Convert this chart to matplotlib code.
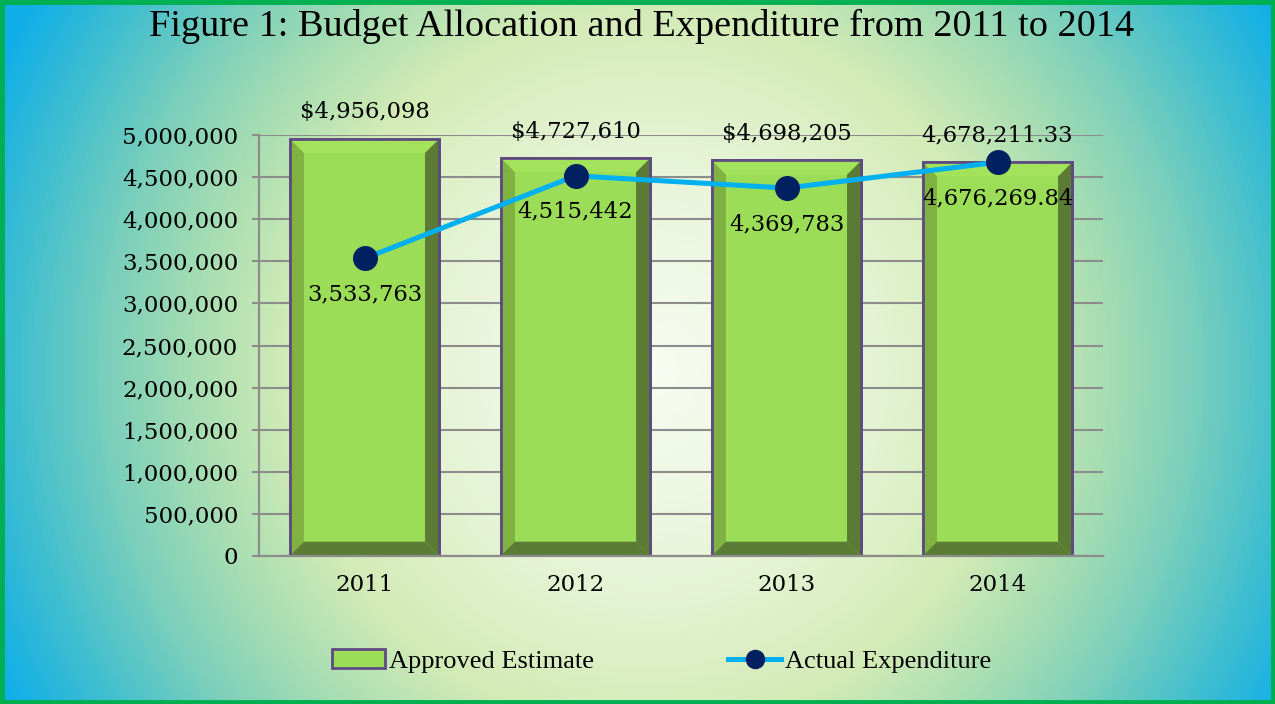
import numpy as np
import matplotlib
matplotlib.use("Agg")
import matplotlib.pyplot as plt
from matplotlib.colors import LinearSegmentedColormap
from matplotlib.patches import Polygon, Patch
from matplotlib.lines import Line2D
from matplotlib.ticker import FuncFormatter

years = ["2011", "2012", "2013", "2014"]
approved = [4956098, 4727610, 4698205, 4678211.33]
actual = [3533763, 4515442, 4369783, 4676269.84]
approved_labels = ["$4,956,098", "$4,727,610", "$4,698,205", "4,678,211.33"]
actual_labels = ["3,533,763", "4,515,442", "4,369,783", "4,676,269.84"]

W, H = 1275, 704
fig = plt.figure(figsize=(W / 100, H / 100), dpi=100)

# radial backdrop: pale centre fading out to cyan/blue corners
bg = fig.add_axes([0, 0, 1, 1], zorder=0)
yy, xx = np.mgrid[0:H, 0:W]
r = np.hypot(xx - 650, yy - 370) / 720.0
cmap = LinearSegmentedColormap.from_list("glow", [
    (0.00, "#f8fcf2"),
    (0.30, "#e6f4d6"),
    (0.50, "#d3ebb6"),
    (0.63, "#a8deb2"),
    (0.75, "#7dd0bb"),
    (0.87, "#45c0cd"),
    (1.00, "#10aee8"),
])
bg.imshow(np.clip(r, 0, 1), cmap=cmap, vmin=0, vmax=1, aspect="auto",
          extent=(0, 1, 0, 1), interpolation="bilinear")
bg.set_xlim(0, 1)
bg.set_ylim(0, 1)
bg.axis("off")
bg.add_patch(plt.Rectangle((0.0015, 0.0025), 0.997, 0.995, fill=False,
                           edgecolor="#00b050", lw=3.5, transform=bg.transAxes))

ax = fig.add_axes([259 / W, 1 - 556 / H, 844 / W, 421 / H], zorder=1)
ax.set_facecolor("none")

x = np.arange(len(years))
bw = 0.71
front = "#9bdd57"
edge = "#5e4b82"

ax.bar(x, approved, bw, color=front, edgecolor=edge, lw=2, zorder=2)

# bevelled look on each bar
dx = 0.068
dy = 170000
for xi, h in zip(x, approved):
    x0, x1 = xi - bw / 2, xi + bw / 2
    faces = [
        ([(x0, h), (x1, h), (x1 - dx, h - dy), (x0 + dx, h - dy)], "#a3e35c"),
        ([(x0, 0), (x0, h), (x0 + dx, h - dy), (x0 + dx, dy)], "#7fb241"),
        ([(x1, 0), (x1, h), (x1 - dx, h - dy), (x1 - dx, dy)], "#5b7b34"),
        ([(x0, 0), (x1, 0), (x1 - dx, dy), (x0 + dx, dy)], "#5a7c35"),
    ]
    for pts, c in faces:
        ax.add_patch(Polygon(pts, closed=True, facecolor=c, edgecolor="none", zorder=2.2))
ax.bar(x, approved, bw, fill=False, edgecolor=edge, lw=2, zorder=2.4)

ax.plot(x, actual, color="#00b0f0", lw=3.6, marker="o", markersize=17,
        markerfacecolor="#002060", markeredgecolor="#002060", zorder=4)

num_font = dict(family="DejaVu Serif", fontsize=16.3, color="black")
for xi, h, t in zip(x, approved, approved_labels):
    ax.annotate(t, (xi, h), xytext=(0, 19), textcoords="offset points",
                ha="center", va="center", zorder=5, **num_font)
for xi, v, t in zip(x, actual, actual_labels):
    ax.annotate(t, (xi, v), xytext=(0, -26), textcoords="offset points",
                ha="center", va="center", zorder=5, **num_font)

ax.set_xlim(-0.5, len(years) - 0.5)
ax.set_ylim(0, 5000000)
ax.set_yticks(np.arange(0, 5000001, 500000))
ax.yaxis.set_major_formatter(FuncFormatter(lambda v, p: f"{int(v):,}"))
ax.set_xticks(x)
ax.set_xticklabels(years)
ax.grid(axis="y", color="#8c8c8c", lw=1.5, zorder=1)
ax.set_axisbelow(True)
for s in ["top", "right"]:
    ax.spines[s].set_visible(False)
for s in ["left", "bottom"]:
    ax.spines[s].set_color("#8c8c8c")
    ax.spines[s].set_linewidth(1.6)
    ax.spines[s].set_zorder(3)
ax.tick_params(axis="y", length=5, width=1.5, color="#8c8c8c", pad=10)
ax.tick_params(axis="x", length=0, pad=13)
for lab in ax.get_yticklabels() + ax.get_xticklabels():
    lab.set_fontfamily("DejaVu Serif")
    lab.set_fontsize(16.5)

fig.text(0.503, 1 - 26 / H, "Figure 1: Budget Allocation and Expenditure from 2011 to 2014",
         ha="center", va="center", family="Liberation Serif", fontsize=27.5, zorder=5)

handles = [
    Patch(facecolor=front, edgecolor=edge, lw=2),
    Line2D([0], [0], color="#00b0f0", lw=3.6, marker="o", markersize=13,
           markerfacecolor="#002060", markeredgecolor="#002060"),
]
fig.legend(handles, ["Approved Estimate", "Actual Expenditure"], loc="center",
           bbox_to_anchor=(0.519, 1 - 661 / H), ncol=2, frameon=False,
           prop=dict(family="Liberation Serif", size=19), handlelength=2.0,
           handletextpad=0.15, columnspacing=5.1)

fig.savefig("out.png", dpi=100)
